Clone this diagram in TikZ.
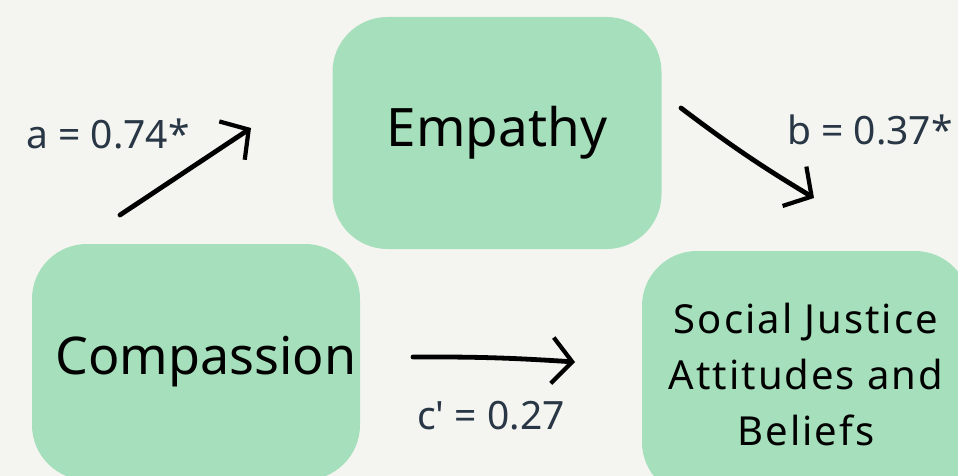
\documentclass[tikz,border=0pt]{standalone}
\usepackage{fontspec}
\setmainfont{Noto Sans}
\newfontfamily\widesans[LetterSpace=5]{Noto Sans}
\usetikzlibrary{arrows.meta}
\definecolor{bg}{HTML}{F4F5F0}
\definecolor{boxgreen}{HTML}{A6DFBB}
\definecolor{lbl}{HTML}{283645}
\newcommand{\fs}[2]{\fontsize{#1}{#2}\selectfont}
\tikzset{
  var/.style={fill=boxgreen, rounded corners=55pt, inner sep=0pt, align=center, text=black},
  coef/.style={text=lbl, font=\fs{39}{44}},
  arr/.style={line width=4.8pt, line cap=round, black,
    -{Straight Barb[length=20pt, width=46pt, line width=4.2pt]}}
}
\begin{document}
\begin{tikzpicture}[x=1pt,y=-1pt]
  \useasboundingbox[fill=bg] (0,0) rectangle (958,476);
  \clip (0,0) rectangle (958,476);
  \node[var, minimum width=328pt, minimum height=236pt, font=\fs{52}{60}] (comp) at (196,362) {\hspace*{20pt}Compassion};
  \node[var, minimum width=329pt, minimum height=232pt, font=\fs{53}{60}] (emp) at (497,133) {Empathy};
  \node[var, minimum width=328pt, minimum height=246pt, font=\widesans\fs{40}{56}] (sja) at (806,374) {Social Justice\\Attitudes and\\Beliefs};
  \coordinate (a1) at (120,215);
  \coordinate (a2) at (251,128);
  \coordinate (b1) at (681,108);
  \coordinate (b2) at (814,198);
  \coordinate (c1) at (413,357);
  \coordinate (c2) at (575,362);
  \draw[arr] (a1) -- (a2);
  \draw[arr] (b1) to[bend right=3] (b2);
  \draw[arr] (c1) to[bend left=2] (c2);
  \node[coef] (la) at (108,134) {a = 0.74*};
  \node[coef] (lb) at (870,130) {b = 0.37*};
  \node[coef] (lc) at (491,416) {c\textquotesingle{} = 0.27};
\end{tikzpicture}
\end{document}
